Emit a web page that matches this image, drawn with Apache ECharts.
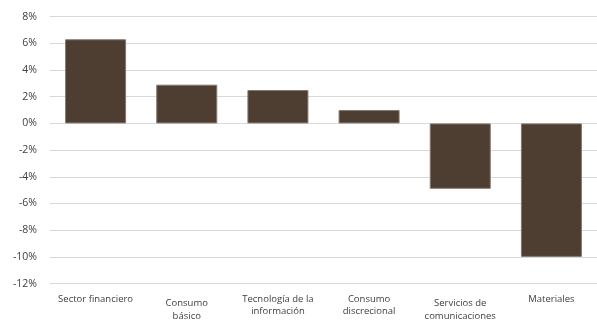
<!DOCTYPE html>
<html>
<head>
<meta charset="utf-8">
<script src="https://cdn.jsdelivr.net/npm/echarts@6/dist/echarts.min.js"></script>
<style>
  html, body { margin: 0; padding: 0; background: #ffffff; }
  #chart { width: 597px; height: 321px; }
</style>
</head>
<body>
<div id="chart"></div>
<script>
// Sector returns (%)
const categories = [
  'Sector financiero',
  'Consumo básico',
  'Tecnología de la información',
  'Consumo discrecional',
  'Servicios de comunicaciones',
  'Materiales'
];
const values = [6.3, 2.9, 2.5, 1.0, -4.9, -10.0];

// How each category label is broken into lines, and which ones sit a bit lower
const labelLines = {
  'Sector financiero': ['Sector financiero'],
  'Consumo básico': ['Consumo', 'básico'],
  'Tecnología de la información': ['Tecnología de la', 'información'],
  'Consumo discrecional': ['Consumo', 'discrecional'],
  'Servicios de comunicaciones': ['Servicios de', 'comunicaciones'],
  'Materiales': ['Materiales']
};
const loweredLabels = ['Consumo básico', 'Servicios de comunicaciones'];

const chart = echarts.init(document.getElementById('chart'), null, { renderer: 'canvas' });

chart.setOption({
  animation: false,
  backgroundColor: '#ffffff',
  textStyle: { fontFamily: '"Open Sans", "Noto Sans", sans-serif' },
  grid: { left: 50, top: 16.6, width: 552.5, height: 267, containLabel: false },
  xAxis: {
    type: 'category',
    data: categories,
    axisLine: { show: false },
    axisTick: { show: false },
    axisLabel: {
      interval: 0,
      margin: 9,
      color: '#404040',
      fontSize: 9.5,
      formatter: function (v) {
        const lines = labelLines[v].map(function (l) { return '{t|' + l + '}'; });
        if (loweredLabels.indexOf(v) >= 0) lines.unshift('{gap| }');
        return lines.join('\n');
      },
      rich: {
        t: { fontSize: 9.5, lineHeight: 12.5, color: '#404040', fontFamily: '"Open Sans", sans-serif' },
        gap: { fontSize: 1, lineHeight: 4.5 }
      }
    }
  },
  yAxis: {
    type: 'value',
    min: -12,
    max: 8,
    interval: 2,
    axisLine: { show: false },
    axisTick: { show: false },
    splitLine: { lineStyle: { color: '#d9d9d9', width: 1 } },
    axisLabel: {
      margin: 13,
      color: '#404040',
      fontSize: 10.5,
      formatter: function (v) { return v + '%'; }
    }
  },
  series: [{
    type: 'bar',
    data: values,
    barWidth: 61,
    itemStyle: {
      color: '#4e3d31',
      borderColor: '#85776d',
      borderWidth: 1
    }
  }]
});
</script>
</body>
</html>
